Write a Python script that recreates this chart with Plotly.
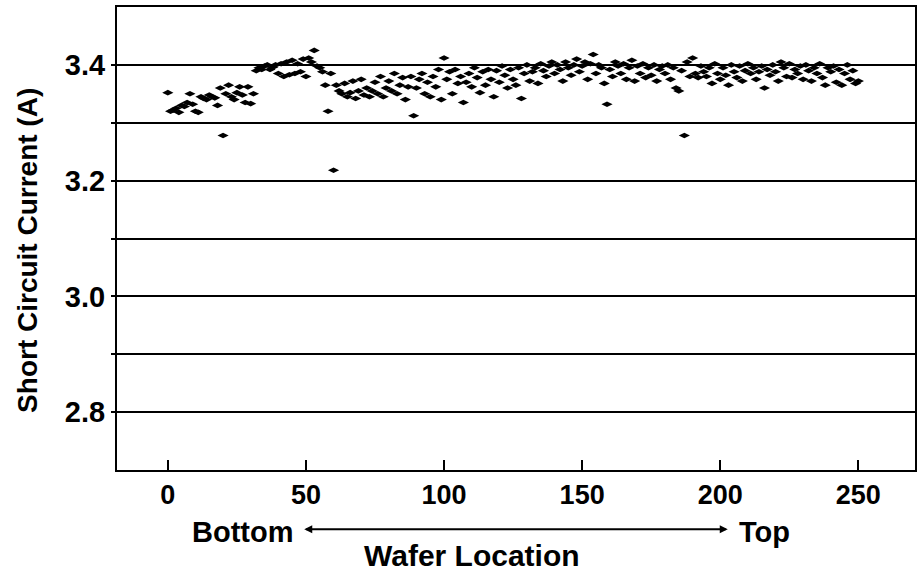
import plotly.graph_objects as go

wafer_location = list(range(0, 251))
short_circuit_current = [
    3.352, 3.320, 3.322, 3.325, 3.318, 3.330, 3.328, 3.335, 3.350, 3.332,
    3.320, 3.318, 3.345, 3.342, 3.340, 3.348, 3.345, 3.343, 3.330, 3.360,
    3.278, 3.350, 3.365, 3.345, 3.340, 3.352, 3.362, 3.348, 3.335, 3.362,
    3.333, 3.350, 3.390, 3.395, 3.392, 3.398, 3.400, 3.392, 3.396, 3.400,
    3.385, 3.402, 3.380, 3.405, 3.383, 3.408, 3.385, 3.402, 3.388, 3.410,
    3.380, 3.412, 3.405, 3.425, 3.398, 3.395, 3.388, 3.365, 3.320, 3.385,
    3.218, 3.365, 3.355, 3.350, 3.368, 3.345, 3.352, 3.372, 3.342, 3.355,
    3.375, 3.348, 3.360, 3.345, 3.355, 3.370, 3.350, 3.380, 3.345, 3.360,
    3.372, 3.355, 3.385, 3.350, 3.365, 3.378, 3.340, 3.362, 3.380, 3.312,
    3.360, 3.375, 3.385, 3.350, 3.370, 3.345, 3.380, 3.362, 3.392, 3.340,
    3.412, 3.375, 3.388, 3.350, 3.392, 3.368, 3.380, 3.335, 3.370, 3.385,
    3.362, 3.395, 3.378, 3.352, 3.388, 3.365, 3.392, 3.375, 3.345, 3.390,
    3.370, 3.398, 3.382, 3.360, 3.392, 3.375, 3.365, 3.395, 3.342, 3.385,
    3.400, 3.372, 3.388, 3.395, 3.368, 3.402, 3.390, 3.380, 3.398, 3.405,
    3.385, 3.400, 3.392, 3.372, 3.405, 3.395, 3.382, 3.400, 3.410, 3.388,
    3.398, 3.405, 3.375, 3.402, 3.418, 3.385, 3.400, 3.395, 3.368, 3.332,
    3.392, 3.380, 3.405, 3.398, 3.385, 3.402, 3.375, 3.395, 3.408, 3.372,
    3.398, 3.385, 3.402, 3.378, 3.395, 3.382, 3.400, 3.372, 3.392, 3.398,
    3.385, 3.400, 3.375, 3.395, 3.360, 3.355, 3.390, 3.278, 3.405, 3.380,
    3.412, 3.385, 3.378, 3.398, 3.388, 3.380, 3.395, 3.368, 3.402, 3.385,
    3.375, 3.395, 3.382, 3.365, 3.400, 3.388, 3.378, 3.398, 3.372, 3.390,
    3.402, 3.385, 3.395, 3.375, 3.388, 3.398, 3.360, 3.392, 3.382, 3.400,
    3.388, 3.372, 3.405, 3.395, 3.380, 3.402, 3.378, 3.392, 3.385, 3.398,
    3.375, 3.400, 3.390, 3.372, 3.395, 3.385, 3.402, 3.378, 3.365, 3.395,
    3.388, 3.398, 3.370, 3.392, 3.365, 3.385, 3.400, 3.375, 3.390, 3.368,
    3.372,
]

x_tick_vals = [0, 50, 100, 150, 200, 250]
x_tick_text = ["0", "50", "100", "150", "200", "250"]
y_tick_vals = [2.8, 2.9, 3.0, 3.1, 3.2, 3.3, 3.4]
y_tick_text = ["2.8", "", "3.0", "", "3.2", "", "3.4"]

FONT = "Liberation Sans, Arial, sans-serif"

fig = go.Figure()
fig.add_trace(go.Scatter(
    x=wafer_location,
    y=short_circuit_current,
    mode="markers",
    marker=dict(symbol="diamond-wide", size=8, color="black"),
    showlegend=False,
))

fig.update_layout(
    width=919, height=573,
    margin=dict(l=117, r=2, t=7, b=103),
    paper_bgcolor="white",
    plot_bgcolor="white",
    font=dict(family=FONT, color="black", size=28, weight="bold"),
    xaxis=dict(
        range=[-18.4, 270.5],
        tickvals=x_tick_vals, ticktext=x_tick_text,
        ticks="inside", ticklen=10, tickwidth=1.5, tickcolor="black",
        showgrid=False, zeroline=False,
        showline=True, linecolor="black", linewidth=2, mirror=True,
        tickfont=dict(family=FONT, size=27, weight="bold"),
    ),
    yaxis=dict(
        range=[2.7, 3.5],
        tickvals=y_tick_vals, ticktext=y_tick_text,
        ticks="outside", ticklen=4, tickwidth=2, tickcolor="black",
        showgrid=True, gridcolor="black", gridwidth=2,
        zeroline=False,
        showline=True, linecolor="black", linewidth=2, mirror=True,
        tickfont=dict(family=FONT, size=29, weight="bold"),
    ),
)

fig.add_annotation(x=-0.113, y=0.475, xref="paper", yref="paper",
                   text="Short Circuit Current (A)", textangle=-90,
                   xanchor="center", yanchor="middle", showarrow=False,
                   font=dict(family=FONT, size=28, weight="bold"))
fig.add_annotation(x=27, y=-0.134, xref="x", yref="paper", text="Bottom",
                   xanchor="center", yanchor="middle",
                   showarrow=False, font=dict(family=FONT, size=29, weight="bold"))
fig.add_annotation(x=216, y=-0.134, xref="x", yref="paper", text="Top",
                   xanchor="center", yanchor="middle",
                   showarrow=False, font=dict(family=FONT, size=29, weight="bold"))
fig.add_annotation(x=202.7, y=-0.128, xref="x", yref="paper",
                   ax=-425, ay=0, axref="pixel", ayref="pixel",
                   text="", showarrow=True, arrowhead=2, arrowside="end+start",
                   arrowwidth=2, arrowsize=0.8, arrowcolor="black")
fig.add_annotation(x=110, y=-0.184, xref="x", yref="paper", text="Wafer Location",
                   xanchor="center", yanchor="middle",
                   showarrow=False, font=dict(family=FONT, size=30, weight="bold"))

fig.write_html("out.html")
